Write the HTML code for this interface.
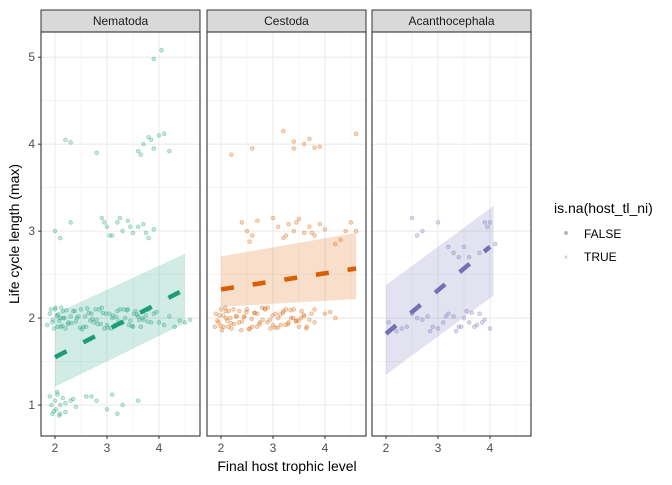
<!DOCTYPE html>
<html><head><meta charset="utf-8">
<style>
body{margin:0;background:#fff;font-family:"Liberation Sans",sans-serif;}
svg text{font-family:"Liberation Sans",sans-serif;}
</style></head>
<body>
<svg id="chart" width="672" height="480" viewBox="0 0 672 480" xmlns="http://www.w3.org/2000/svg">
<rect width="672" height="480" fill="#fff"/>
<g id="panels"></g>
<text transform="translate(19,234) rotate(-90)" text-anchor="middle" font-size="14" fill="#000">Life cycle length (max)</text>
<text x="287" y="471" text-anchor="middle" font-size="14" fill="#000">Final host trophic level</text>
<g>
<text x="554" y="213" font-size="14" fill="#000">is.na(host_tl_ni)</text>
<circle cx="566" cy="233" r="2" fill="#999" fill-opacity="0.7"/>
<text x="584" y="238" font-size="12" fill="#000">FALSE</text>
<text x="566" y="260" text-anchor="middle" font-size="8" fill="#bbb">×</text>
<text x="584" y="261" font-size="12" fill="#000">TRUE</text>
</g>
</svg>
<script>
const facets=["Nematoda","Cestoda","Acanthocephala"];
const colors=["#1b9e77","#d95f02","#7570b3"];
const xTicks=[2,3,4];
const yTicks=[1,2,3,4,5];
// ribbons: [x0,x1,lower0,lower1,upper0,upper1]
const ribbonNem=[2,4.5,1.21,1.94,2.05,2.74];
const ribbonCes=[2,4.6,2.13,2.22,2.71,2.98];
const ribbonAca=[2,4.07,1.35,2.26,2.38,3.29];
// fit lines: [x0,x1,y0,y1]
const fitNem=[2,4.4,1.55,2.3];
const fitCes=[2,4.6,2.33,2.57];
const fitAca=[2,4.0,1.82,2.82];
const ptsNemX=[1.9,1.95,2.0,2.05,2.1,2.15,2.2,2.3,2.4,2.5,2.6,2.7,2.8,2.9,3.0,3.1,3.2,3.3,3.4,3.5,3.6,3.7,3.8,3.9,4.0,4.1,4.3,4.5,4.6,1.85,1.92,1.98,2.03,2.08,2.12,2.18,2.25,2.35,2.45,2.55,2.65,2.75,2.85,2.95,3.05,3.15,3.25,3.35,3.45,3.55,3.65,3.75,3.85,3.95,4.2,4.4,
 1.9,1.95,2.0,2.02,2.05,2.08,2.1,2.15,2.2,2.3,2.4,2.6,2.8,3.0,3.1,3.3,3.6,1.93,1.98,2.04,2.1,2.2,2.35,2.7,3.2,
 2.0,2.1,2.3,2.9,3.0,3.1,3.2,3.3,3.4,3.5,3.6,3.7,3.8,3.9,2.95,3.05,3.25,3.45,3.75,
 2.2,2.3,2.8,3.6,3.7,3.8,3.9,4.0,4.1,3.65,3.85,4.2,3.9,4.05,
 1.96,2.06,2.14,2.22,2.32,2.42,2.52,2.62,2.72,2.82,2.92,3.02,3.12,3.22,3.32,3.42,3.52,3.62,2.01,2.11,2.16,2.26,2.38,2.48,2.58,2.68,2.78,2.88,2.98,3.08,3.18,3.28,3.38,3.48,3.58,3.68,3.78];
const ptsNemY=[2.05,1.95,2.1,1.9,2.0,2.08,1.88,2.02,1.96,2.1,1.9,2.05,1.98,2.12,1.92,2.0,2.08,1.95,2.1,1.9,2.02,1.98,2.1,2.05,1.95,1.92,1.9,1.95,1.98,1.92,2.1,1.88,2.03,1.97,2.12,2.0,1.93,2.08,2.02,1.9,2.06,1.95,2.1,1.88,2.05,1.92,2.1,2.0,1.97,2.08,1.9,2.03,1.95,2.07,2.02,1.97,
 1.1,0.9,1.05,0.95,1.12,0.88,1.0,1.08,0.92,1.05,0.98,1.1,1.05,0.95,1.12,1.0,1.05,1.0,0.93,1.15,0.9,1.02,1.07,1.1,0.9,
 3.0,2.92,3.1,3.15,3.05,2.95,3.1,3.0,3.12,2.98,3.05,3.08,2.92,3.02,3.1,2.95,3.15,3.05,2.98,
 4.05,4.02,3.9,3.92,4.0,4.08,3.95,4.1,4.12,3.88,4.05,3.92,4.98,5.08,
 1.98,2.04,1.91,2.09,1.94,2.0,1.87,2.11,1.99,1.93,2.06,1.89,2.03,1.96,2.1,1.92,2.05,1.98,2.12,1.9,2.0,1.95,2.08,1.89,2.02,1.97,2.1,1.93,2.05,1.88,2.01,1.94,2.09,1.91,2.04,2.0,1.96];
const ptsCesX=[1.9,1.95,2.0,2.05,2.1,2.15,2.2,2.3,2.4,2.5,2.6,2.7,2.8,2.9,3.0,3.1,3.2,3.3,3.4,3.5,3.6,3.7,3.8,4.0,4.2,1.88,1.97,2.02,2.08,2.12,2.18,2.25,2.35,2.45,2.55,2.65,2.75,2.85,2.95,3.05,3.15,3.25,3.35,3.45,3.55,3.65,3.8,4.1,
 2.4,2.5,2.6,2.7,3.0,3.1,3.2,3.3,3.4,3.5,3.6,3.7,3.8,3.9,4.0,4.2,4.4,4.5,4.6,2.55,3.25,3.45,3.75,4.3,
 2.2,2.6,3.2,3.4,3.4,3.6,3.7,3.8,4.6,3.9,
 1.93,2.04,2.14,2.24,2.34,2.44,2.54,2.64,2.74,2.84,2.94,3.04,3.14,3.24,3.34,3.44,3.54,3.64,3.74,1.99,2.09,2.19,2.29,2.39,2.49,2.59,2.69,2.79,2.89,2.99,3.09,3.19,3.29,3.39,3.49,3.59];
const ptsCesY=[2.05,1.95,2.1,1.9,2.0,2.08,1.88,2.02,1.96,2.1,1.9,2.05,1.98,2.12,1.92,2.0,2.08,1.95,2.1,1.9,2.02,1.98,2.1,2.05,2.0,1.9,2.03,1.86,2.12,1.97,2.0,1.93,2.08,2.02,1.88,2.06,1.95,2.1,1.88,2.05,1.92,2.1,2.0,1.97,2.08,1.9,1.95,2.07,
 3.1,3.0,2.95,3.12,3.15,3.05,2.92,3.08,3.0,3.14,2.98,3.05,2.95,3.08,3.02,2.85,3.0,3.1,3.0,2.88,2.95,3.1,2.98,2.9,
 3.88,3.95,4.15,3.95,4.03,4.0,4.06,3.96,4.12,3.97,
 1.97,2.03,1.9,2.1,1.95,2.01,1.87,2.06,1.93,2.11,1.98,1.89,2.04,1.92,2.09,1.96,2.0,1.88,2.05,1.91,2.08,1.94,2.02,1.86,2.07,1.99,1.9,2.12,1.95,2.03,1.89,2.06,1.93,2.0,1.97,2.04];
const ptsAcaX=[2.05,2.2,2.4,2.5,2.6,2.7,2.8,2.9,3.0,3.1,3.2,3.3,3.4,3.5,3.6,3.7,3.8,3.9,4.0,3.35,3.55,3.75,2.3,2.85,3.15,3.45,3.65,3.85,
 2.5,2.6,2.7,3.0,3.3,3.4,3.5,3.6,3.8,3.9,3.95,4.0,4.1,3.2];
const ptsAcaY=[1.95,1.85,1.9,2.05,2.0,1.98,2.02,1.9,1.88,1.95,2.05,2.02,1.9,2.0,1.95,1.9,2.05,1.98,1.88,1.85,2.08,1.92,1.88,1.85,2.02,1.9,2.06,1.95,
 3.15,2.95,3.0,3.1,2.75,2.7,2.82,2.7,2.75,3.1,3.05,3.1,2.85,2.82];
const panelPts=[[ptsNemX,ptsNemY],[ptsCesX,ptsCesY],[ptsAcaX,ptsAcaY]];
const ribbons=[ribbonNem,ribbonCes,ribbonAca];
const fits=[fitNem,fitCes,fitAca];

const NS="http://www.w3.org/2000/svg";
const panelLefts=[41,207,372], panelW=159, pTop=32, pBottom=436;
const xMin=1.73,xMax=4.79,yMin=0.644,yMax=5.29;
const g=document.getElementById('panels');
function mk(t,a,p){const e=document.createElementNS(NS,t);for(const k in a)e.setAttribute(k,a[k]);(p||g).appendChild(e);return e;}
facets.forEach((name,i)=>{
  const L=panelLefts[i];
  const sx=v=>L+(v-xMin)/(xMax-xMin)*panelW;
  const sy=v=>pBottom-(v-yMin)/(yMax-yMin)*(pBottom-pTop);
  const pg=mk('g',{});
  
  
  const st=mk('rect',{x:L,y:10,width:panelW,height:22,fill:'#d9d9d9',stroke:'#333','stroke-width':1},pg);
  
  
  const stt=mk('text',{x:L+panelW/2,y:25,'text-anchor':'middle','font-size':12,fill:'#1a1a1a'},pg);
  stt.textContent=name;
  
  
  for(let v=1.5;v<=5;v+=1){mk('line',{x1:L,x2:L+panelW,y1:sy(v),y2:sy(v),stroke:'#f0f0f0','stroke-width':0.6},pg);}
  for(let v=2.5;v<=4.5;v+=1){mk('line',{x1:sx(v),x2:sx(v),y1:pTop,y2:pBottom,stroke:'#f0f0f0','stroke-width':0.6},pg);}
  yTicks.forEach(v=>{const l=mk('line',{x1:L,x2:L+panelW,y1:sy(v),y2:sy(v),stroke:'#ebebeb','stroke-width':1.1},pg);
    });
  xTicks.forEach(v=>{const l=mk('line',{x1:sx(v),x2:sx(v),y1:pTop,y2:pBottom,stroke:'#ebebeb','stroke-width':1.1},pg);
    
    mk('line',{x1:sx(v),x2:sx(v),y1:pBottom,y2:pBottom+3,stroke:'#333'},pg);
    const t=mk('text',{x:sx(v),y:pBottom+16,'text-anchor':'middle','font-size':12,fill:'#4d4d4d'},pg);t.textContent=v;
    });
  const r=ribbons[i];
  const rb=mk('polygon',{points:`${sx(r[0])},${sy(r[2])} ${sx(r[1])},${sy(r[3])} ${sx(r[1])},${sy(r[5])} ${sx(r[0])},${sy(r[4])}`,fill:colors[i],'fill-opacity':0.2},pg);
  
  
  const px=panelPts[i][0], py=panelPts[i][1];
  const n=Math.min(px.length,py.length);
  for(let j=0;j<n;j++){const c=mk('circle',{cx:sx(px[j]),cy:sy(py[j]),r:1.9,fill:colors[i],'fill-opacity':0.25,stroke:colors[i],'stroke-opacity':0.4,'stroke-width':0.7},pg);
    
    }
  const f=fits[i];
  const fl=mk('line',{x1:sx(f[0]),y1:sy(f[2]),x2:sx(f[1]),y2:sy(f[3]),stroke:colors[i],'stroke-width':4.5,'stroke-dasharray':'13,19'},pg);
  
  
  mk('rect',{x:L,y:pTop,width:panelW,height:pBottom-pTop,fill:'none',stroke:'#333','stroke-width':1.1},pg);
  if(i===0){yTicks.forEach(v=>{mk('line',{x1:L-3,x2:L,y1:sy(v),y2:sy(v),stroke:'#333'},pg);
    const t=mk('text',{x:L-6,y:sy(v)+4,'text-anchor':'end','font-size':12,fill:'#4d4d4d'},pg);t.textContent=v;
    });}
});
</script>
</body></html>
